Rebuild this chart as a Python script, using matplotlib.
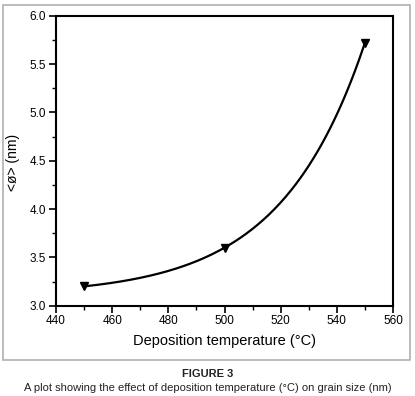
import numpy as np
import matplotlib
matplotlib.use('Agg')
import matplotlib.pyplot as plt
from matplotlib.patches import Rectangle
from matplotlib.ticker import MultipleLocator

plt.rcParams['font.family'] = ['Liberation Sans', 'DejaVu Sans']

# data
temp = [450, 500, 550]          # deposition temperature (°C)
size = [3.2, 3.6, 5.72]         # mean grain size <ø> (nm)

# exponential trend y = y0 + A*exp((x-450)/t) through the three points
r = (size[2] - size[1]) / (size[1] - size[0])
A = (size[1] - size[0]) / (r - 1)
y0 = size[0] - A
xs = np.linspace(temp[0], temp[-1], 200)
ys = y0 + A * r ** ((xs - temp[0]) / (temp[1] - temp[0]))

fig = plt.figure(figsize=(4.15, 3.96), dpi=100)

# gray frame round the plot
fig.patches.append(Rectangle((3 / 415, 1 - 360 / 396), 407 / 415, 355 / 396,
                             transform=fig.transFigure, fill=False,
                             edgecolor='#b0b0b0', linewidth=1.2))

ax = fig.add_axes([56 / 415, 1 - 305.7 / 396, 337 / 415, 290 / 396])
ax.plot(xs, ys, color='black', linewidth=1.6)
ax.plot(temp, size, linestyle='none', marker='v', color='black', markersize=5.5)

ax.set_xlim(440, 560)
ax.set_ylim(3.0, 6.0)
ax.xaxis.set_major_locator(MultipleLocator(20))
ax.xaxis.set_minor_locator(MultipleLocator(10))
ax.yaxis.set_major_locator(MultipleLocator(0.5))
ax.yaxis.set_minor_locator(MultipleLocator(0.25))
ax.yaxis.set_major_formatter(plt.FormatStrFormatter('%.1f'))

for s in ax.spines.values():
    s.set_linewidth(1.5)
ax.tick_params(which='major', direction='out', length=5, width=1.2,
               labelsize=8.5, pad=2)
ax.tick_params(which='minor', direction='out', length=3, width=1.0)
ax.get_xticklabels()[-1].set_color('#808080')

ax.set_xlabel('Deposition temperature (°C)', fontsize=10.5, labelpad=5)
fig.text(13.5 / 415, 1 - 162 / 396, '<ø> (nm)', rotation=90,
         ha='center', va='center', fontsize=10)

fig.text(0.5, 1 - 374 / 396, 'FIGURE 3', ha='center', va='center',
         fontsize=8, fontweight='bold', color='#222222')
fig.text(0.5, 1 - 388 / 396,
         'A plot showing the effect of deposition temperature (°C) on grain size (nm)',
         ha='center', va='center', fontsize=8, color='#222222')

fig.savefig('out.png', dpi=100)
